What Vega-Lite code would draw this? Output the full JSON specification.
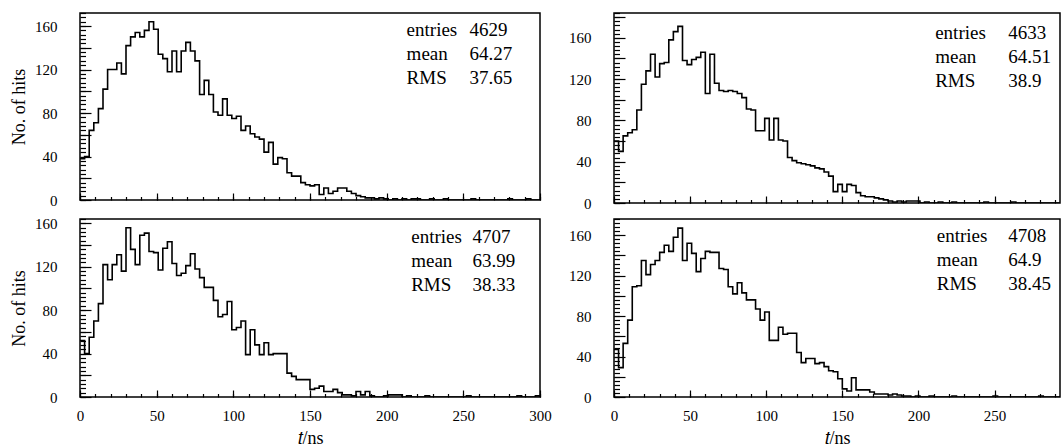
{
"$schema": "https://vega.github.io/schema/vega-lite/v6.json",
"padding": {"left": 9, "top": 9, "right": 0, "bottom": 0},
"background": "white",
"config": {
  "font": "Liberation Serif",
  "view": {"stroke": "black", "strokeWidth": 1.5},
  "axis": {"domain": false, "grid": false, "tickColor": "black", "tickWidth": 1.2, "labelColor": "black", "titleColor": "black",
           "labelFont": "Liberation Serif", "titleFont": "Liberation Serif", "labelFontSize": 15, "titleFontSize": 18,
           "titleFontWeight": "normal", "labelFlush": false, "labelOverlap": false}
},
"datasets": {
"a": [{"t":0,"n":38},{"t":3,"n":40},{"t":6,"n":64},{"t":9,"n":71},{"t":12,"n":84},{"t":15,"n":102},{"t":18,"n":120},{"t":21,"n":120},{"t":24,"n":126},{"t":27,"n":116},
{"t":30,"n":142},{"t":33,"n":150},{"t":36,"n":154},{"t":39,"n":150},{"t":42,"n":156},{"t":45,"n":164},{"t":48,"n":157},{"t":51,"n":134},{"t":54,"n":130},{"t":57,"n":118},
{"t":60,"n":137},{"t":63,"n":118},{"t":66,"n":137},{"t":69,"n":145},{"t":72,"n":137},{"t":75,"n":128},{"t":78,"n":97},{"t":81,"n":110},{"t":84,"n":97},{"t":87,"n":81},
{"t":90,"n":78},{"t":93,"n":93},{"t":96,"n":78},{"t":99,"n":75},{"t":102,"n":77},{"t":105,"n":64},{"t":108,"n":68},{"t":111,"n":61},{"t":114,"n":58},{"t":117,"n":56},
{"t":120,"n":44},{"t":123,"n":53},{"t":126,"n":33},{"t":129,"n":39},{"t":132,"n":38},{"t":135,"n":25},{"t":138,"n":22},{"t":141,"n":22},{"t":144,"n":16},{"t":147,"n":14},
{"t":150,"n":13},{"t":153,"n":14},{"t":156,"n":5},{"t":159,"n":11},{"t":162,"n":6},{"t":165,"n":8},{"t":168,"n":11},{"t":171,"n":11},{"t":174,"n":8},{"t":177,"n":6},
{"t":180,"n":4},{"t":183,"n":3},{"t":186,"n":2},{"t":189,"n":2},{"t":192,"n":1},{"t":195,"n":2},{"t":198,"n":1},{"t":201,"n":0},{"t":204,"n":1},{"t":207,"n":0},
{"t":210,"n":1},{"t":213,"n":0},{"t":216,"n":1},{"t":219,"n":1},{"t":222,"n":0},{"t":225,"n":0},{"t":228,"n":1},{"t":231,"n":0},{"t":234,"n":0},{"t":237,"n":1},
{"t":240,"n":0},{"t":243,"n":0},{"t":246,"n":0},{"t":249,"n":0},{"t":252,"n":0},{"t":255,"n":1},{"t":258,"n":0},{"t":261,"n":0},{"t":264,"n":0},{"t":267,"n":0},
{"t":270,"n":0},{"t":273,"n":0},{"t":276,"n":0},{"t":279,"n":1},{"t":282,"n":0},{"t":285,"n":0},{"t":288,"n":0},{"t":291,"n":1},{"t":294,"n":0},{"t":297,"n":0},{"t":300,"n":0}],
"b": [{"t":0,"n":60},{"t":3,"n":50},{"t":6,"n":65},{"t":9,"n":68},{"t":12,"n":71},{"t":15,"n":90},{"t":18,"n":115},{"t":21,"n":128},{"t":24,"n":144},{"t":27,"n":122},
{"t":30,"n":135},{"t":33,"n":136},{"t":36,"n":158},{"t":39,"n":166},{"t":42,"n":171},{"t":45,"n":138},{"t":48,"n":134},{"t":51,"n":139},{"t":54,"n":141},{"t":57,"n":146},
{"t":60,"n":106},{"t":63,"n":144},{"t":66,"n":116},{"t":69,"n":109},{"t":72,"n":108},{"t":75,"n":109},{"t":78,"n":108},{"t":81,"n":106},{"t":84,"n":102},{"t":87,"n":91},
{"t":90,"n":90},{"t":93,"n":70},{"t":96,"n":70},{"t":99,"n":82},{"t":102,"n":61},{"t":105,"n":82},{"t":108,"n":61},{"t":111,"n":60},{"t":114,"n":44},{"t":117,"n":41},
{"t":120,"n":39},{"t":123,"n":38},{"t":126,"n":37},{"t":129,"n":36},{"t":132,"n":34},{"t":135,"n":33},{"t":138,"n":30},{"t":141,"n":26},{"t":144,"n":11},{"t":147,"n":18},
{"t":150,"n":11},{"t":153,"n":18},{"t":156,"n":17},{"t":159,"n":10},{"t":162,"n":7},{"t":165,"n":6},{"t":168,"n":6},{"t":171,"n":5},{"t":174,"n":4},{"t":177,"n":3},
{"t":180,"n":2},{"t":183,"n":1},{"t":186,"n":2},{"t":189,"n":1},{"t":192,"n":2},{"t":195,"n":2},{"t":198,"n":2},{"t":201,"n":0},{"t":204,"n":1},{"t":207,"n":0},
{"t":210,"n":0},{"t":213,"n":1},{"t":216,"n":0},{"t":219,"n":0},{"t":222,"n":1},{"t":225,"n":0},{"t":228,"n":0},{"t":231,"n":0},{"t":234,"n":0},{"t":237,"n":0},
{"t":240,"n":0},{"t":243,"n":1},{"t":246,"n":0},{"t":249,"n":0},{"t":252,"n":0},{"t":255,"n":0},{"t":258,"n":0},{"t":261,"n":1},{"t":264,"n":0},{"t":267,"n":0},
{"t":270,"n":0},{"t":273,"n":0},{"t":276,"n":0},{"t":279,"n":0},{"t":282,"n":0},{"t":285,"n":0},{"t":288,"n":0},{"t":291,"n":0},{"t":294,"n":0},{"t":297,"n":0},{"t":300,"n":0}],
"c": [{"t":0,"n":52},{"t":3,"n":40},{"t":6,"n":55},{"t":9,"n":70},{"t":12,"n":86},{"t":15,"n":122},{"t":18,"n":108},{"t":21,"n":122},{"t":24,"n":131},{"t":27,"n":116},
{"t":30,"n":156},{"t":33,"n":136},{"t":36,"n":122},{"t":39,"n":149},{"t":42,"n":151},{"t":45,"n":134},{"t":48,"n":133},{"t":51,"n":117},{"t":54,"n":137},{"t":57,"n":143},
{"t":60,"n":123},{"t":63,"n":112},{"t":66,"n":114},{"t":69,"n":121},{"t":72,"n":132},{"t":75,"n":118},{"t":78,"n":110},{"t":81,"n":101},{"t":84,"n":101},{"t":87,"n":89},
{"t":90,"n":74},{"t":93,"n":76},{"t":96,"n":88},{"t":99,"n":62},{"t":102,"n":64},{"t":105,"n":70},{"t":108,"n":39},{"t":111,"n":62},{"t":114,"n":48},{"t":117,"n":39},
{"t":120,"n":50},{"t":123,"n":39},{"t":126,"n":40},{"t":129,"n":40},{"t":132,"n":40},{"t":135,"n":22},{"t":138,"n":19},{"t":141,"n":16},{"t":144,"n":16},{"t":147,"n":16},
{"t":150,"n":7},{"t":153,"n":8},{"t":156,"n":10},{"t":159,"n":5},{"t":162,"n":5},{"t":165,"n":7},{"t":168,"n":4},{"t":171,"n":2},{"t":174,"n":2},{"t":177,"n":1},
{"t":180,"n":5},{"t":183,"n":2},{"t":186,"n":5},{"t":189,"n":1},{"t":192,"n":0},{"t":195,"n":0},{"t":198,"n":1},{"t":201,"n":2},{"t":204,"n":2},{"t":207,"n":2},
{"t":210,"n":0},{"t":213,"n":1},{"t":216,"n":0},{"t":219,"n":0},{"t":222,"n":0},{"t":225,"n":1},{"t":228,"n":0},{"t":231,"n":0},{"t":234,"n":0},{"t":237,"n":0},
{"t":240,"n":0},{"t":243,"n":0},{"t":246,"n":0},{"t":249,"n":0},{"t":252,"n":1},{"t":255,"n":0},{"t":258,"n":0},{"t":261,"n":0},{"t":264,"n":0},{"t":267,"n":0},
{"t":270,"n":0},{"t":273,"n":0},{"t":276,"n":0},{"t":279,"n":0},{"t":282,"n":0},{"t":285,"n":1},{"t":288,"n":0},{"t":291,"n":0},{"t":294,"n":0},{"t":297,"n":1},{"t":300,"n":1}],
"d": [{"t":0,"n":47},{"t":3,"n":29},{"t":6,"n":53},{"t":9,"n":76},{"t":12,"n":109},{"t":15,"n":110},{"t":18,"n":135},{"t":21,"n":121},{"t":24,"n":131},{"t":27,"n":135},
{"t":30,"n":143},{"t":33,"n":150},{"t":36,"n":144},{"t":39,"n":158},{"t":42,"n":167},{"t":45,"n":135},{"t":48,"n":152},{"t":51,"n":142},{"t":54,"n":124},{"t":57,"n":137},
{"t":60,"n":144},{"t":63,"n":143},{"t":66,"n":143},{"t":69,"n":127},{"t":72,"n":126},{"t":75,"n":109},{"t":78,"n":102},{"t":81,"n":113},{"t":84,"n":103},{"t":87,"n":96},
{"t":90,"n":96},{"t":93,"n":87},{"t":96,"n":76},{"t":99,"n":84},{"t":102,"n":56},{"t":105,"n":56},{"t":108,"n":69},{"t":111,"n":62},{"t":114,"n":63},{"t":117,"n":63},
{"t":120,"n":44},{"t":123,"n":34},{"t":126,"n":38},{"t":129,"n":38},{"t":132,"n":33},{"t":135,"n":34},{"t":138,"n":30},{"t":141,"n":26},{"t":144,"n":25},{"t":147,"n":18},
{"t":150,"n":8},{"t":153,"n":6},{"t":156,"n":19},{"t":159,"n":7},{"t":162,"n":7},{"t":165,"n":7},{"t":168,"n":5},{"t":171,"n":3},{"t":174,"n":3},{"t":177,"n":3},
{"t":180,"n":2},{"t":183,"n":3},{"t":186,"n":2},{"t":189,"n":1},{"t":192,"n":1},{"t":195,"n":0},{"t":198,"n":1},{"t":201,"n":0},{"t":204,"n":0},{"t":207,"n":1},
{"t":210,"n":0},{"t":213,"n":0},{"t":216,"n":0},{"t":219,"n":0},{"t":222,"n":1},{"t":225,"n":0},{"t":228,"n":0},{"t":231,"n":0},{"t":234,"n":0},{"t":237,"n":0},
{"t":240,"n":0},{"t":243,"n":0},{"t":246,"n":0},{"t":249,"n":1},{"t":252,"n":0},{"t":255,"n":0},{"t":258,"n":0},{"t":261,"n":0},{"t":264,"n":0},{"t":267,"n":0},
{"t":270,"n":0},{"t":273,"n":0},{"t":276,"n":0},{"t":279,"n":1},{"t":282,"n":0},{"t":285,"n":0},{"t":288,"n":0},{"t":291,"n":0},{"t":294,"n":0},{"t":297,"n":0},{"t":300,"n":0}]
},
"columns": 2,
"spacing": {"row": 16, "column": 74},
"bounds": "flush",
"concat": [
  {"width": 460, "height": 187, "data": {"name": "a"},
   "layer": [
    {"mark": {"type": "line", "interpolate": "step-after", "color": "black", "strokeWidth": 1.6, "clip": true},
     "encoding": {
      "x": {"field": "t", "type": "quantitative", "scale": {"domain": [0, 300], "nice": false, "zero": false},
            "axis": {"orient": "bottom", "values": [0,50,100,150,200,250,300], "tickSize": -7, "labels": false, "title": null}},
      "y": {"field": "n", "type": "quantitative", "scale": {"domain": [0, 172], "nice": false},
            "axis": {"orient": "left", "values": [0,20,40,60,80,100,120,140,160,180], "tickSize": -11, "labelPadding": 34,
                     "labelExpr": "datum.value % 40 == 0 ? datum.label : ''", "title": "No. of hits", "titlePadding": 6}}}},
    {"mark": {"type": "point", "opacity": 0},
     "encoding": {
      "x": {"field": "t", "type": "quantitative", "scale": {"domain": [0, 300], "nice": false, "zero": false},
            "axis": {"orient": "bottom", "values": [0,10,20,30,40,50,60,70,80,90,100,110,120,130,140,150,160,170,180,190,200,210,220,230,240,250,260,270,280,290,300], "tickSize": -3.5, "labels": false, "title": null}},
      "y": {"field": "n", "type": "quantitative", "scale": {"domain": [0, 172], "nice": false},
            "axis": {"orient": "left", "values": [0,4,8,12,16,20,24,28,32,36,40,44,48,52,56,60,64,68,72,76,80,84,88,92,96,100,104,108,112,116,120,124,128,132,136,140,144,148,152,156,160,164,168,172,176,180,184], "tickSize": -5.5, "labels": false, "title": null}}}},
    {"data": {"values": [{}]},
     "mark": {"type": "text", "align": "left", "baseline": "top", "fontSize": 19, "lineHeight": 24, "font": "Liberation Serif", "color": "black"},
     "encoding": {
      "x": {"datum": 213, "type": "quantitative", "scale": {"domain": [0, 300], "nice": false, "zero": false}, "axis": null},
      "y": {"datum": 165, "type": "quantitative", "scale": {"domain": [0, 172], "nice": false}, "axis": null},
      "text": {"value": ["entries", "mean", "RMS"]}}},
    {"data": {"values": [{}]},
     "mark": {"type": "text", "align": "left", "baseline": "top", "fontSize": 19, "lineHeight": 24, "font": "Liberation Serif", "color": "black"},
     "encoding": {
      "x": {"datum": 254, "type": "quantitative", "scale": {"domain": [0, 300], "nice": false, "zero": false}, "axis": null},
      "y": {"datum": 165, "type": "quantitative", "scale": {"domain": [0, 172], "nice": false}, "axis": null},
      "text": {"value": ["4629", "64.27", "37.65"]}}}
   ],
   "resolve": {"axis": {"x": "independent", "y": "independent"}}},
  {"width": 446, "height": 190, "data": {"name": "b"},
   "layer": [
    {"mark": {"type": "line", "interpolate": "step-after", "color": "black", "strokeWidth": 1.6, "clip": true},
     "encoding": {
      "x": {"field": "t", "type": "quantitative", "scale": {"domain": [0, 293], "nice": false, "zero": false},
            "axis": {"orient": "bottom", "values": [0,50,100,150,200,250,300], "tickSize": -7, "labels": false, "title": null}},
      "y": {"field": "n", "type": "quantitative", "scale": {"domain": [0, 184], "nice": false},
            "axis": {"orient": "left", "values": [0,20,40,60,80,100,120,140,160,180], "tickSize": -11, "labelPadding": 34,
                     "labelExpr": "datum.value % 40 == 0 ? datum.label : ''", "title": null}}}},
    {"mark": {"type": "point", "opacity": 0},
     "encoding": {
      "x": {"field": "t", "type": "quantitative", "scale": {"domain": [0, 293], "nice": false, "zero": false},
            "axis": {"orient": "bottom", "values": [0,10,20,30,40,50,60,70,80,90,100,110,120,130,140,150,160,170,180,190,200,210,220,230,240,250,260,270,280,290,300], "tickSize": -3.5, "labels": false, "title": null}},
      "y": {"field": "n", "type": "quantitative", "scale": {"domain": [0, 184], "nice": false},
            "axis": {"orient": "left", "values": [0,4,8,12,16,20,24,28,32,36,40,44,48,52,56,60,64,68,72,76,80,84,88,92,96,100,104,108,112,116,120,124,128,132,136,140,144,148,152,156,160,164,168,172,176,180,184], "tickSize": -5.5, "labels": false, "title": null}}}},
    {"data": {"values": [{}]},
     "mark": {"type": "text", "align": "left", "baseline": "top", "fontSize": 19, "lineHeight": 24, "font": "Liberation Serif", "color": "black"},
     "encoding": {
      "x": {"datum": 211, "type": "quantitative", "scale": {"domain": [0, 293], "nice": false, "zero": false}, "axis": null},
      "y": {"datum": 173, "type": "quantitative", "scale": {"domain": [0, 184], "nice": false}, "axis": null},
      "text": {"value": ["entries", "mean", "RMS"]}}},
    {"data": {"values": [{}]},
     "mark": {"type": "text", "align": "left", "baseline": "top", "fontSize": 19, "lineHeight": 24, "font": "Liberation Serif", "color": "black"},
     "encoding": {
      "x": {"datum": 259, "type": "quantitative", "scale": {"domain": [0, 293], "nice": false, "zero": false}, "axis": null},
      "y": {"datum": 173, "type": "quantitative", "scale": {"domain": [0, 184], "nice": false}, "axis": null},
      "text": {"value": ["4633", "64.51", "38.9"]}}}
   ],
   "resolve": {"axis": {"x": "independent", "y": "independent"}}},
  {"width": 460, "height": 178, "data": {"name": "c"},
   "layer": [
    {"mark": {"type": "line", "interpolate": "step-after", "color": "black", "strokeWidth": 1.6, "clip": true},
     "encoding": {
      "x": {"field": "t", "type": "quantitative", "scale": {"domain": [0, 300], "nice": false, "zero": false},
            "axis": {"orient": "bottom", "values": [0,50,100,150,200,250,300], "tickSize": -7, "labelPadding": 18, "title": "𝑡/ns", "titlePadding": 6}},
      "y": {"field": "n", "type": "quantitative", "scale": {"domain": [0, 164], "nice": false},
            "axis": {"orient": "left", "values": [0,20,40,60,80,100,120,140,160,180], "tickSize": -11, "labelPadding": 34,
                     "labelExpr": "datum.value % 40 == 0 ? datum.label : ''", "title": "No. of hits", "titlePadding": 6}}}},
    {"mark": {"type": "point", "opacity": 0},
     "encoding": {
      "x": {"field": "t", "type": "quantitative", "scale": {"domain": [0, 300], "nice": false, "zero": false},
            "axis": {"orient": "bottom", "values": [0,10,20,30,40,50,60,70,80,90,100,110,120,130,140,150,160,170,180,190,200,210,220,230,240,250,260,270,280,290,300], "tickSize": -3.5, "labels": false, "title": null}},
      "y": {"field": "n", "type": "quantitative", "scale": {"domain": [0, 164], "nice": false},
            "axis": {"orient": "left", "values": [0,4,8,12,16,20,24,28,32,36,40,44,48,52,56,60,64,68,72,76,80,84,88,92,96,100,104,108,112,116,120,124,128,132,136,140,144,148,152,156,160,164,168,172,176,180,184], "tickSize": -5.5, "labels": false, "title": null}}}},
    {"data": {"values": [{}]},
     "mark": {"type": "text", "align": "left", "baseline": "top", "fontSize": 19, "lineHeight": 24, "font": "Liberation Serif", "color": "black"},
     "encoding": {
      "x": {"datum": 216, "type": "quantitative", "scale": {"domain": [0, 300], "nice": false, "zero": false}, "axis": null},
      "y": {"datum": 156, "type": "quantitative", "scale": {"domain": [0, 164], "nice": false}, "axis": null},
      "text": {"value": ["entries", "mean", "RMS"]}}},
    {"data": {"values": [{}]},
     "mark": {"type": "text", "align": "left", "baseline": "top", "fontSize": 19, "lineHeight": 24, "font": "Liberation Serif", "color": "black"},
     "encoding": {
      "x": {"datum": 256, "type": "quantitative", "scale": {"domain": [0, 300], "nice": false, "zero": false}, "axis": null},
      "y": {"datum": 156, "type": "quantitative", "scale": {"domain": [0, 164], "nice": false}, "axis": null},
      "text": {"value": ["4707", "63.99", "38.33"]}}}
   ],
   "resolve": {"axis": {"x": "independent", "y": "independent"}}},
  {"width": 446, "height": 178, "data": {"name": "d"},
   "layer": [
    {"mark": {"type": "line", "interpolate": "step-after", "color": "black", "strokeWidth": 1.6, "clip": true},
     "encoding": {
      "x": {"field": "t", "type": "quantitative", "scale": {"domain": [0, 293], "nice": false, "zero": false},
            "axis": {"orient": "bottom", "values": [0,50,100,150,200,250,300], "tickSize": -7, "labelPadding": 18, "title": "𝑡/ns", "titlePadding": 6}},
      "y": {"field": "n", "type": "quantitative", "scale": {"domain": [0, 176], "nice": false},
            "axis": {"orient": "left", "values": [0,20,40,60,80,100,120,140,160,180], "tickSize": -11, "labelPadding": 34,
                     "labelExpr": "datum.value % 40 == 0 ? datum.label : ''", "title": null}}}},
    {"mark": {"type": "point", "opacity": 0},
     "encoding": {
      "x": {"field": "t", "type": "quantitative", "scale": {"domain": [0, 293], "nice": false, "zero": false},
            "axis": {"orient": "bottom", "values": [0,10,20,30,40,50,60,70,80,90,100,110,120,130,140,150,160,170,180,190,200,210,220,230,240,250,260,270,280,290,300], "tickSize": -3.5, "labels": false, "title": null}},
      "y": {"field": "n", "type": "quantitative", "scale": {"domain": [0, 176], "nice": false},
            "axis": {"orient": "left", "values": [0,4,8,12,16,20,24,28,32,36,40,44,48,52,56,60,64,68,72,76,80,84,88,92,96,100,104,108,112,116,120,124,128,132,136,140,144,148,152,156,160,164,168,172,176,180,184], "tickSize": -5.5, "labels": false, "title": null}}}},
    {"data": {"values": [{}]},
     "mark": {"type": "text", "align": "left", "baseline": "top", "fontSize": 19, "lineHeight": 24, "font": "Liberation Serif", "color": "black"},
     "encoding": {
      "x": {"datum": 212, "type": "quantitative", "scale": {"domain": [0, 293], "nice": false, "zero": false}, "axis": null},
      "y": {"datum": 168, "type": "quantitative", "scale": {"domain": [0, 176], "nice": false}, "axis": null},
      "text": {"value": ["entries", "mean", "RMS"]}}},
    {"data": {"values": [{}]},
     "mark": {"type": "text", "align": "left", "baseline": "top", "fontSize": 19, "lineHeight": 24, "font": "Liberation Serif", "color": "black"},
     "encoding": {
      "x": {"datum": 259, "type": "quantitative", "scale": {"domain": [0, 293], "nice": false, "zero": false}, "axis": null},
      "y": {"datum": 168, "type": "quantitative", "scale": {"domain": [0, 176], "nice": false}, "axis": null},
      "text": {"value": ["4708", "64.9", "38.45"]}}}
   ],
   "resolve": {"axis": {"x": "independent", "y": "independent"}}}
]
}
